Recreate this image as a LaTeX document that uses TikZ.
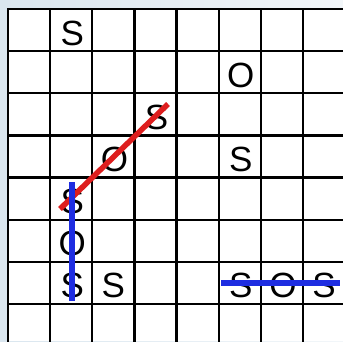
\documentclass[tikz,border=0pt]{standalone}
\usepackage{fontspec}
\setmainfont{Liberation Sans}
\definecolor{bgl}{RGB}{218,230,239}
\definecolor{bgr}{RGB}{242,246,249}
\definecolor{redline}{RGB}{222,30,30}
\definecolor{blueline}{RGB}{30,45,225}
\tikzset{
  letter/.style={font=\fontsize{35}{35}\selectfont, inner sep=0pt, anchor=center},
  gridline/.style={line width=2.3pt, black},
  redmark/.style={line width=5.5pt, redline},
  bluemark/.style={line width=5.5pt, blueline}
}
\begin{document}
\begin{tikzpicture}[x=1pt,y=-1pt]
\useasboundingbox (0,0) rectangle (343,341);
\shade[left color=bgl, right color=bgr] (0,0) rectangle (343,341);
\fill[white] (8,9) rectangle (343,341);
\begin{scope}
\clip (0,0) rectangle (343,341);
\foreach \i in {0,...,8} {
  \draw[gridline] ({8+42.14*\i},9) -- ({8+42.14*\i},345);
  \draw[gridline] (7,{9+42.14*\i}) -- (345,{9+42.14*\i});
}
\end{scope}
% letters: col c, row r -> center (8+42.14*(c+0.5), 9+42.14*(r+0.5))
\node[letter] (s1) at (72.2,33) {S};
\node[letter] (o1) at (240.8,75) {O};
\node[letter] (s2) at (156.5,117) {S};
\node[letter] (o2) at (114.4,159) {O};
\node[letter] (s3) at (240.8,159) {S};
\node[letter] (s4) at (72.2,201) {S};
\node[letter] (o3) at (72.2,243) {O};
\node[letter] (s5) at (72.2,285) {S};
\node[letter] (s6) at (113.4,285) {S};
\node[letter] (s7) at (240.8,285) {S};
\node[letter] (o4) at (282.9,285) {O};
\node[letter] (s8) at (324,285) {S};
% line ends
\coordinate (r1) at (60,209);
\coordinate (r2) at (168,104);
\coordinate (b1) at (72,182);
\coordinate (b2) at (72,301);
\coordinate (h1) at (221,283);
\coordinate (h2) at (340,283);
\draw[redmark] (r1) -- (r2);
\draw[bluemark] (b1) -- (b2);
\draw[bluemark] (h1) -- (h2);
\end{tikzpicture}
\end{document}
